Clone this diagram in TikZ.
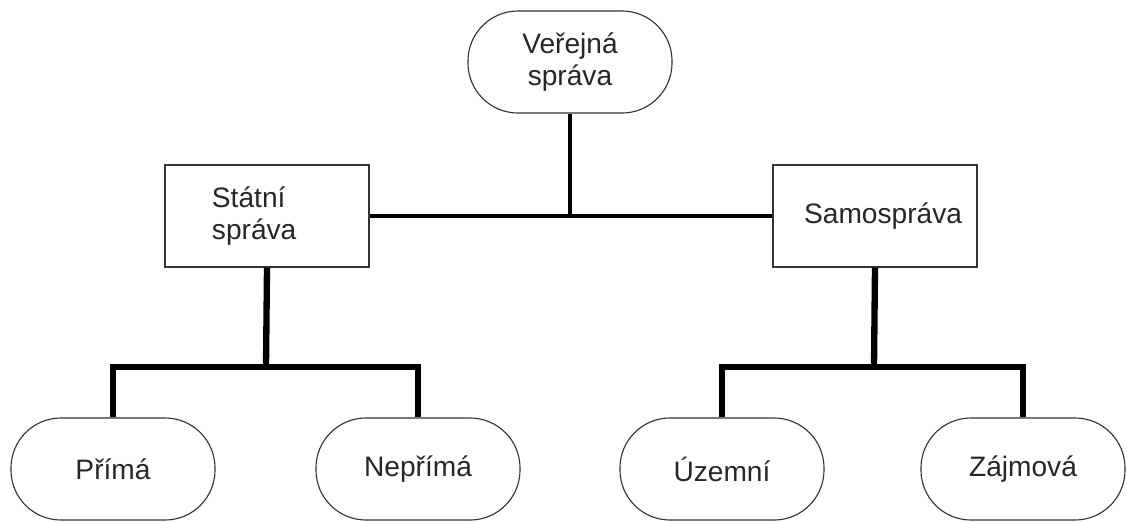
\documentclass[tikz,border=0pt]{standalone}
\usepackage{fontspec}
\setmainfont{Liberation Sans}
\usetikzlibrary{positioning}

\tikzset{
  roundbox/.style={draw=black!80, line width=0.8pt, rounded corners=1.25cm, minimum width=5.1cm, minimum height=2.55cm, inner sep=2pt, align=center, text=black!85, font=\fontsize{20}{23}\selectfont},
  squarebox/.style={draw=black!80, line width=0.8pt, minimum width=5.1cm, minimum height=2.55cm, inner sep=2pt, text=black!85, font=\fontsize{20}{23}\selectfont},
  thinlink/.style={line width=3pt},
  thicklink/.style={line width=4.5pt}
}

\begin{document}
\begin{tikzpicture}[x=0.025cm, y=-0.025cm]
  \useasboundingbox (0,0) rectangle (1127,521);

  % top level
  \node[roundbox] (verejna) at (570,62) {Veřejná\\správa};

  % second level
  \node[squarebox, text width=2.75cm, align=left] (statni) at (267,216) {Státní\\správa};
  \node[squarebox, text width=4.35cm, align=right] (samo) at (875,216) {Samospráva};

  % third level
  \node[roundbox] (prima) at (113,469) {Přímá};
  \node[roundbox] (neprima) at (418,469) {Nepřímá};
  \node[roundbox] (uzemni) at (722,469) {Územní};
  \node[roundbox] (zajmova) at (1023,469) {Zájmová};

  \coordinate (stbar) at (266,367);
  \coordinate (sabar) at (874,367);

  \draw[thinlink] (statni.east) -- (samo.west);
  \draw[thinlink, line width=3.5pt] (verejna.south) -- (verejna.south |- statni.east);

  \draw[thicklink] (statni.south) -- (stbar);
  \draw[thicklink] (prima.north) -- (prima.north |- stbar) -- (neprima.north |- stbar) -- (neprima.north);

  \draw[thicklink] (samo.south) -- (sabar);
  \draw[thicklink] (uzemni.north) -- (uzemni.north |- sabar) -- (zajmova.north |- sabar) -- (zajmova.north);
\end{tikzpicture}
\end{document}
